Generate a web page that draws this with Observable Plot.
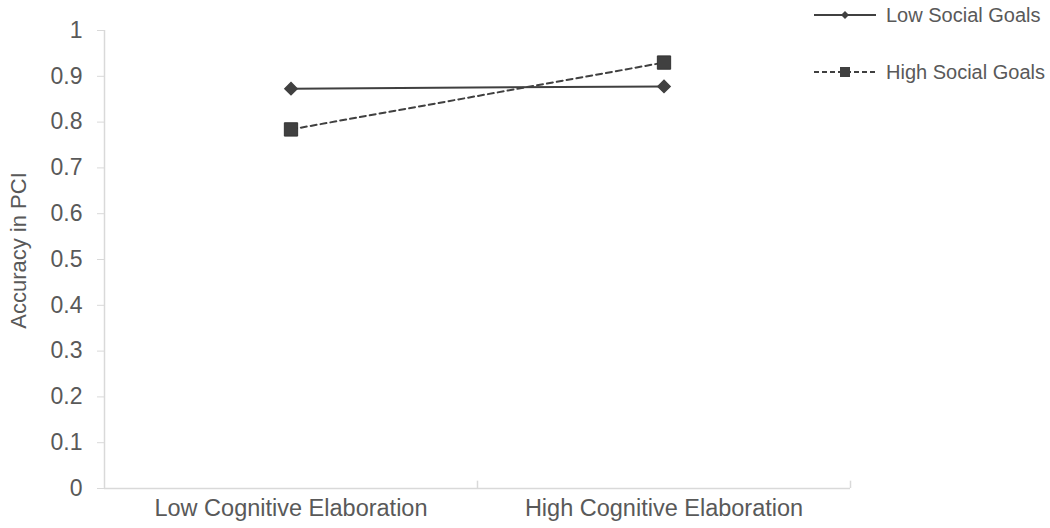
<!DOCTYPE html>
<html>
<head>
<meta charset="utf-8">
<script src="https://cdn.jsdelivr.net/npm/d3@7"></script>
<script src="https://cdn.jsdelivr.net/npm/@observablehq/plot@0.6"></script>
<style>
  html, body { margin: 0; padding: 0; background: #fff; }
  #wrap { position: relative; width: 1050px; height: 528px; font-family: "Liberation Sans", Arial, sans-serif; }
  #legend { position: absolute; left: 0; top: 0; }
  .lg { position: absolute; left: 812px; display: flex; align-items: center; font-size: 20px; color: #595959; white-space: nowrap; }
  .lg svg { margin-right: 8px; }
</style>
</head>
<body>
<div id="wrap"></div>
<script>
const categories = ["Low Cognitive Elaboration", "High Cognitive Elaboration"];
const seriesNames = ["Low Social Goals", "High Social Goals"];
const lowSocialGoals = [0.873, 0.878];
const highSocialGoals = [0.784, 0.930];
const yTicks = [0, 0.1, 0.2, 0.3, 0.4, 0.5, 0.6, 0.7, 0.8, 0.9, 1];
const yLabel = "Accuracy in PCI";

const rows = [];
categories.forEach((c, i) => {
  rows.push({cat: c, series: seriesNames[0], value: lowSocialGoals[i]});
  rows.push({cat: c, series: seriesNames[1], value: highSocialGoals[i]});
});
const lowRows = rows.filter(d => d.series === seriesNames[0]);
const highRows = rows.filter(d => d.series === seriesNames[1]);

const W = 1050, H = 528;
const mL = 104, mT = 30, mB = 40, xEnd = 850, frameRight = 850;
const bw = (xEnd - mL) / categories.length;
const axisColor = "#d9d9d9";
const textColor = "#595959";
const ink = "#404040";

const chart = Plot.plot({
  width: W,
  height: H,
  marginLeft: mL,
  marginRight: W - frameRight,
  marginTop: mT,
  marginBottom: mB,
  style: {fontFamily: "'Liberation Sans', Arial, sans-serif", color: textColor, background: "transparent"},
  x: {type: "band", domain: categories, range: [mL, xEnd], padding: 0, label: null},
  y: {domain: [0, 1], label: null},
  marks: [
    Plot.ruleY([0], {stroke: axisColor, strokeWidth: 1.5}),
    Plot.ruleX([0], {x: () => categories[0], dx: -bw / 2, y1: 0, y2: 1, stroke: axisColor, strokeWidth: 1.5}),
    Plot.ruleX(categories.slice(1), {x: d => d, dx: -bw / 2, y1: 0, y2: 0.016, stroke: axisColor, strokeWidth: 1.5}),
    Plot.ruleX(categories.slice(-1), {x: d => d, dx: bw / 2, y1: 0, y2: 0.016, stroke: axisColor, strokeWidth: 1.5}),
    Plot.axisY({ticks: yTicks, tickSize: 7, tickPadding: 15, stroke: axisColor, fontSize: 23, fill: textColor,
      tickFormat: d => String(+d.toFixed(1)), label: null}),
    Plot.axisX({tickSize: 0, tickPadding: 11, fontSize: 23.5, fill: textColor, label: null}),
    Plot.text([yLabel], {frameAnchor: "left", textAnchor: "middle", rotate: -90, dx: -86, dy: -9, fontSize: 22, fill: textColor, text: d => d}),
    Plot.line(lowRows, {x: "cat", y: "value", stroke: ink, strokeWidth: 2}),
    Plot.line(highRows, {x: "cat", y: "value", stroke: ink, strokeWidth: 2, strokeDasharray: "6,4"}),
    Plot.dot(lowRows, {x: "cat", y: "value", symbol: "diamond2", r: 5.5, fill: ink, stroke: ink}),
    Plot.dot(highRows, {x: "cat", y: "value", symbol: "square", r: 7.5, fill: ink, stroke: "#333", strokeWidth: 1})
  ]
});

const wrap = document.getElementById("wrap");
wrap.appendChild(chart);

// Legend
const legend = document.createElement("div");
legend.id = "legend";
const items = [
  {name: seriesNames[0], top: 15, dash: null, marker: "diamond"},
  {name: seriesNames[1], top: 72, dash: "5,3", marker: "square"}
];
items.forEach(it => {
  const el = document.createElement("div");
  el.className = "lg";
  el.style.top = (it.top - 12) + "px";
  const svgNS = "http://www.w3.org/2000/svg";
  const s = document.createElementNS(svgNS, "svg");
  s.setAttribute("width", 66); s.setAttribute("height", 24);
  const ln = document.createElementNS(svgNS, "line");
  ln.setAttribute("x1", 2); ln.setAttribute("x2", 64); ln.setAttribute("y1", 12); ln.setAttribute("y2", 12);
  ln.setAttribute("stroke", ink); ln.setAttribute("stroke-width", 2);
  if (it.dash) ln.setAttribute("stroke-dasharray", it.dash);
  s.appendChild(ln);
  const m = document.createElementNS(svgNS, "path");
  if (it.marker === "diamond") m.setAttribute("d", "M33,8L37,12L33,16L29,12Z");
  else m.setAttribute("d", "M28,7H38V17H28Z");
  m.setAttribute("fill", ink);
  s.appendChild(m);
  el.appendChild(s);
  const t = document.createElement("span");
  t.textContent = it.name;
  el.appendChild(t);
  legend.appendChild(el);
});
wrap.appendChild(legend);
</script>
</body>
</html>
